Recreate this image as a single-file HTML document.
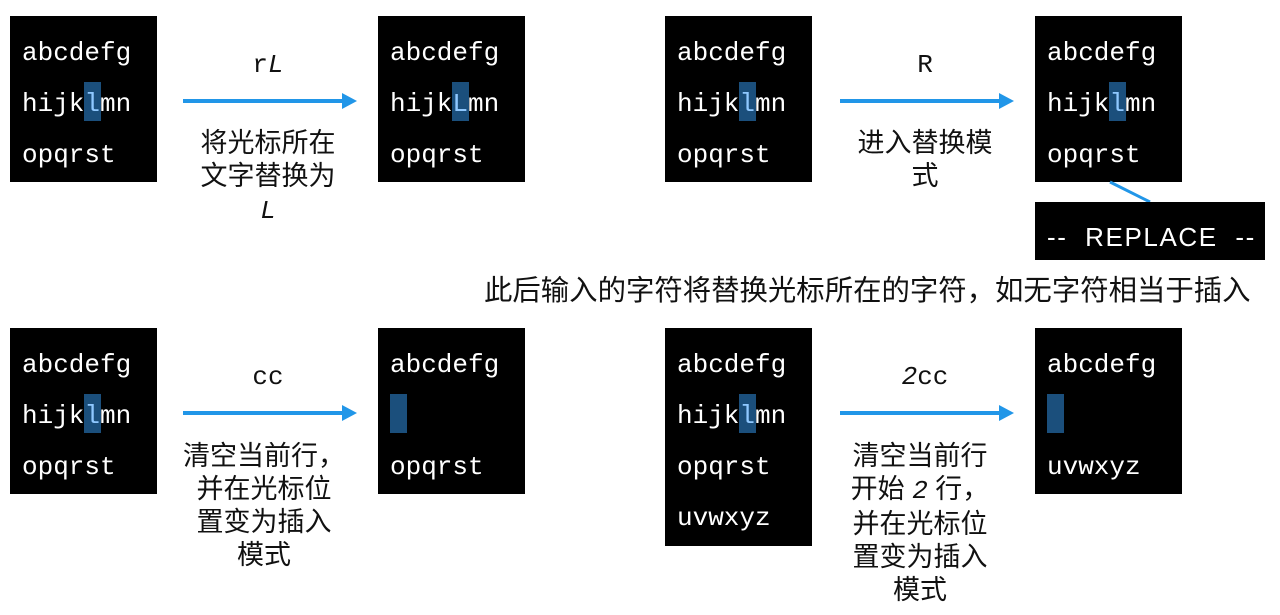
<!DOCTYPE html>
<html><head><meta charset="utf-8"><style>
body{margin:0;width:1280px;height:615px;background:#fff;position:relative;overflow:hidden;font-family:"Liberation Sans","Noto Sans CJK SC",sans-serif}
.b{position:absolute;background:#000;width:147px}
.l{position:absolute;left:12px;color:#fff;font-family:"Liberation Mono",monospace;font-size:26px;line-height:30px;white-space:pre}
.c{position:absolute;background:#1b4f7c;width:17px;height:39px}
.cl{color:#8fc8ff}
.ar{position:absolute;height:4px;background:#2196e8;width:160px}
.ar:after{content:"";position:absolute;right:-14px;top:-6px;border-left:15px solid #2196e8;border-top:8px solid transparent;border-bottom:8px solid transparent}
.t{position:absolute;text-align:center;font-size:27px;line-height:33px;color:#111;width:200px}
.m{font-family:"Liberation Mono",monospace;font-size:26px}
</style></head><body>
<div class="b" style="left:10px;top:16px;height:166px">
<div class="c" style="left:74px;top:66px"></div>
<div class="l" style="top:22px">abcdefg</div><div class="l" style="top:73px">hijk<span class="cl">l</span>mn</div><div class="l" style="top:124px">opqrst</div></div>
<div class="ar" style="left:183px;top:99px"></div>
<div class="t m" style="left:168px;top:49px">r<i>L</i></div>
<div class="t" style="left:168px;top:127px">将光标所在<br>文字替换为<br><i class="m">L</i></div>
<div class="b" style="left:378px;top:16px;height:166px">
<div class="c" style="left:74px;top:66px"></div>
<div class="l" style="top:22px">abcdefg</div><div class="l" style="top:73px">hijk<span class="cl">L</span>mn</div><div class="l" style="top:124px">opqrst</div></div>
<div class="b" style="left:665px;top:16px;height:166px">
<div class="c" style="left:74px;top:66px"></div>
<div class="l" style="top:22px">abcdefg</div><div class="l" style="top:73px">hijk<span class="cl">l</span>mn</div><div class="l" style="top:124px">opqrst</div></div>
<div class="ar" style="left:840px;top:99px"></div>
<div class="t m" style="left:825px;top:49px">R</div>
<div class="t" style="left:825px;top:127px">进入替换模<br>式</div>
<div class="b" style="left:1035px;top:16px;height:166px">
<div class="c" style="left:74px;top:66px"></div>
<div class="l" style="top:22px">abcdefg</div><div class="l" style="top:73px">hijk<span class="cl">l</span>mn</div><div class="l" style="top:124px">opqrst</div></div>
<svg style="position:absolute;left:0;top:0" width="1280" height="615"><line x1="1110" y1="182" x2="1150" y2="202" stroke="#2196e8" stroke-width="3"/></svg>
<div class="b" style="left:1035px;top:202px;height:58px;width:230px"><div class="l" style="top:20px;left:12px;font-family:'Liberation Sans',sans-serif;font-size:26px;letter-spacing:1.6px">--  REPLACE  --</div></div>
<div style="position:absolute;left:484px;top:268px;font-size:28.4px;color:#111;white-space:nowrap">此后输入的字符将替换光标所在的字符，如无字符相当于插入</div>
<div class="b" style="left:10px;top:328px;height:166px">
<div class="c" style="left:74px;top:66px"></div>
<div class="l" style="top:22px">abcdefg</div><div class="l" style="top:73px">hijk<span class="cl">l</span>mn</div><div class="l" style="top:124px">opqrst</div></div>
<div class="ar" style="left:183px;top:411px"></div>
<div class="t m" style="left:168px;top:361px">cc</div>
<div class="t" style="left:164px;top:440px">清空当前行，<br>并在光标位<br>置变为插入<br>模式</div>
<div class="b" style="left:378px;top:328px;height:166px">
<div class="c" style="left:12px;top:66px"></div>
<div class="l" style="top:22px">abcdefg</div><div class="l" style="top:124px">opqrst</div></div>
<div class="b" style="left:665px;top:328px;height:218px">
<div class="c" style="left:74px;top:66px"></div>
<div class="l" style="top:22px">abcdefg</div><div class="l" style="top:73px">hijk<span class="cl">l</span>mn</div><div class="l" style="top:124px">opqrst</div><div class="l" style="top:175px">uvwxyz</div></div>
<div class="ar" style="left:840px;top:411px"></div>
<div class="t m" style="left:825px;top:361px"><i>2</i>cc</div>
<div class="t" style="left:820px;top:440px">清空当前行<br>开始 <i class="m">2</i> 行，<br>并在光标位<br>置变为插入<br>模式</div>
<div class="b" style="left:1035px;top:328px;height:166px">
<div class="c" style="left:12px;top:66px"></div>
<div class="l" style="top:22px">abcdefg</div><div class="l" style="top:124px">uvwxyz</div></div>
</body></html>
